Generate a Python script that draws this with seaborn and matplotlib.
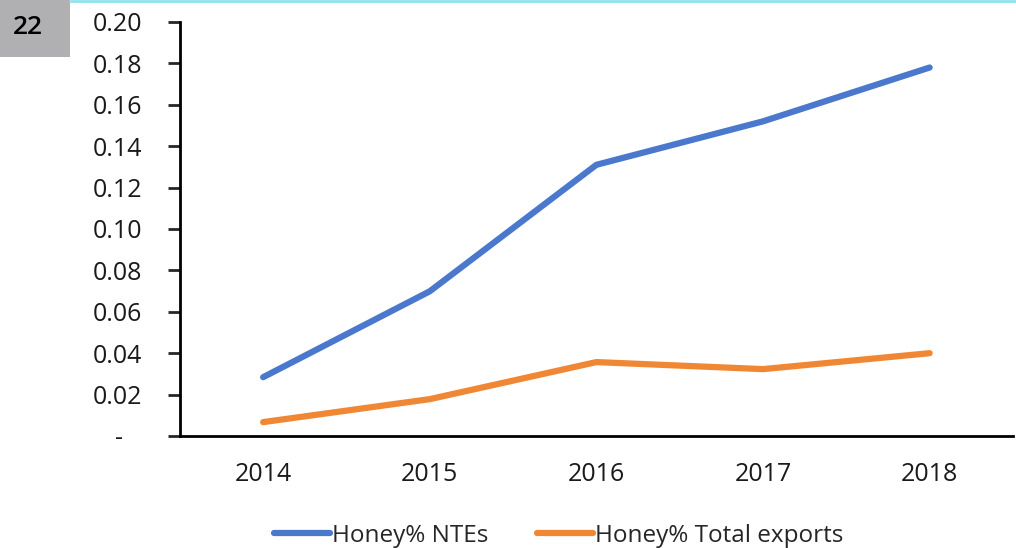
import pandas as pd
import seaborn as sns
import matplotlib.pyplot as plt
from matplotlib.patches import Rectangle
from matplotlib.lines import Line2D

# data
years = ['2014', '2015', '2016', '2017', '2018']
honey_ntes = [0.0284, 0.0699, 0.1310, 0.1520, 0.1780]
honey_total = [0.0067, 0.0178, 0.0357, 0.0323, 0.0400]

df = pd.DataFrame({
    'year': years * 2,
    'value': honey_ntes + honey_total,
    'series': ['Honey% NTEs'] * 5 + ['Honey% Total exports'] * 5,
})

sns.set_style('white')
plt.rcParams['font.family'] = ['Open Sans', 'DejaVu Sans']

fig = plt.figure(figsize=(10.16, 5.48), dpi=100)
ax = fig.add_axes([0.177, 0.2044, 0.82, 0.7555])

sns.lineplot(data=df, x='year', y='value', hue='series',
             palette=['#4a78cc', '#f08734'], linewidth=4.5,
             solid_capstyle='round', legend=False, ax=ax)

ax.set_xlim(-0.5, 4.5)
ax.set_ylim(0, 0.20)
ax.set_yticks([i * 0.02 for i in range(11)])
ax.set_yticklabels(['-   '] + [f'{i * 0.02:.2f}' for i in range(1, 11)])
ax.set_xlabel('')
ax.set_ylabel('')

for s in ['top', 'right']:
    ax.spines[s].set_visible(False)
ax.spines['left'].set_linewidth(2)
ax.spines['bottom'].set_linewidth(2)
ax.spines['left'].set_color('black')
ax.spines['bottom'].set_color('black')
ax.tick_params(axis='y', left=True, length=9, width=2, labelsize=18, pad=18)
ax.tick_params(axis='x', bottom=False, labelsize=18, pad=15)
for lab in ax.get_yticklabels() + ax.get_xticklabels():
    lab.set_color('#1a1a1a')

# legend
handles = [Line2D([], [], color='#4a78cc', lw=4.5, solid_capstyle='round'),
           Line2D([], [], color='#f08734', lw=4.5, solid_capstyle='round')]
fig.legend(handles, ['Honey% NTEs', 'Honey% Total exports'], loc='center',
           bbox_to_anchor=(0.55, 0.022), ncol=2, frameon=False, fontsize=17.5,
           handlelength=2.3, handletextpad=0.1, columnspacing=2.0)

# page decorations: number box and top rule
fig.add_artist(Rectangle((0, 1 - 57 / 548), 70 / 1016, 57 / 548,
                         transform=fig.transFigure, color='#b0b0b3', lw=0))
fig.text(28 / 1016, 1 - 28 / 548, '22', ha='center', va='center',
         fontsize=19, fontweight='semibold', color='black')
fig.add_artist(Line2D([70 / 1016, 1], [0.998, 0.998],
                      transform=fig.transFigure, color='#8fe3ec', lw=2))

plt.savefig('out.png', dpi=100)
